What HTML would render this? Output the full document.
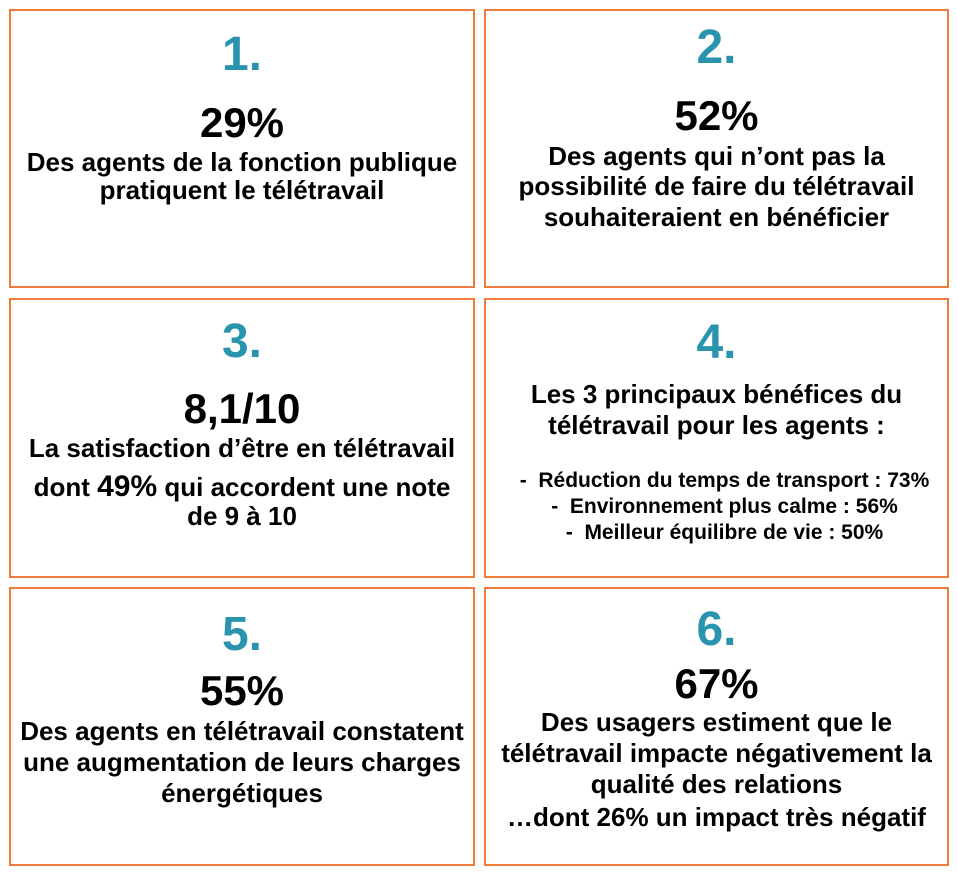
<!DOCTYPE html>
<html><head><meta charset="utf-8">
<style>
html,body{margin:0;padding:0;background:#fff;}
body{width:957px;height:875px;position:relative;overflow:hidden;font-family:"Liberation Sans",Arial,sans-serif;font-weight:bold;color:#000;}
.box{position:absolute;border:2px solid #F07A3C;box-sizing:border-box;background:#fff;}
.t{position:absolute;text-align:center;white-space:nowrap;line-height:1.15;}
.n{font-size:48px;color:#2A93AE;}
.p{font-size:42px;}
.b{font-size:26px;}
.c{font-size:26px;}
.l{font-size:21px;}
.L{left:9px;width:466px;}
.R{left:484px;width:465px;}
</style></head><body>
<div class="box" style="left:9px;top:9px;width:466px;height:279px;"></div>
<div class="box" style="left:484px;top:9px;width:465px;height:279px;"></div>
<div class="box" style="left:9px;top:298px;width:466px;height:280px;"></div>
<div class="box" style="left:484px;top:298px;width:465px;height:280px;"></div>
<div class="box" style="left:9px;top:587px;width:466px;height:279px;"></div>
<div class="box" style="left:484px;top:587px;width:465px;height:279px;"></div>

<div class="t n L" style="top:27px">1.</div>
<div class="t p L" style="top:99px">29%</div>
<div class="t b L" style="top:148px">Des agents de la fonction publique</div>
<div class="t b L" style="top:176px">pratiquent le télétravail</div>

<div class="t n R" style="top:20px">2.</div>
<div class="t p R" style="top:92px">52%</div>
<div class="t b R" style="top:142px">Des agents qui n’ont pas la</div>
<div class="t b R" style="top:172px">possibilité de faire du télétravail</div>
<div class="t b R" style="top:203px">souhaiteraient en bénéficier</div>

<div class="t n L" style="top:314px">3.</div>
<div class="t p L" style="top:385px">8,1/10</div>
<div class="t c L" style="top:434px">La satisfaction d’être en télétravail</div>
<div class="t c L" style="top:470px">dont <span style="font-size:30px">49%</span> qui accordent une note</div>
<div class="t c L" style="top:502px">de 9 à 10</div>

<div class="t n R" style="top:315px">4.</div>
<div class="t b R" style="top:380px">Les 3 principaux bénéfices du</div>
<div class="t b R" style="top:411px">télétravail pour les agents :</div>
<div class="t l R" style="top:469px;padding-left:16px;box-sizing:border-box">-&nbsp; Réduction du temps de transport : 73%</div>
<div class="t l R" style="top:495px;padding-left:16px;box-sizing:border-box">-&nbsp; Environnement plus calme : 56%</div>
<div class="t l R" style="top:521px;padding-left:16px;box-sizing:border-box">-&nbsp; Meilleur équilibre de vie : 50%</div>

<div class="t n L" style="top:607px">5.</div>
<div class="t p L" style="top:667px">55%</div>
<div class="t c L" style="top:717px">Des agents en télétravail constatent</div>
<div class="t c L" style="top:748px">une augmentation de leurs charges</div>
<div class="t c L" style="top:779px">énergétiques</div>

<div class="t n R" style="top:602px">6.</div>
<div class="t p R" style="top:660px">67%</div>
<div class="t c R" style="top:708px">Des usagers estiment que le</div>
<div class="t c R" style="top:739px">télétravail impacte négativement la</div>
<div class="t c R" style="top:770px">qualité des relations</div>
<div class="t c R" style="top:803px">…dont 26% un impact très négatif</div>
</body></html>
